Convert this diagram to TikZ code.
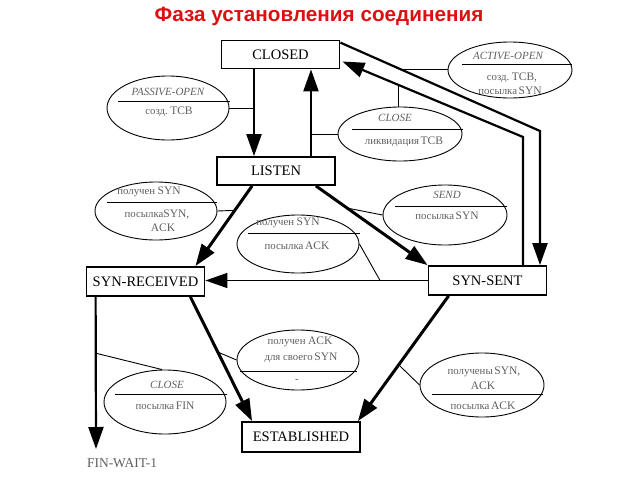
\documentclass[tikz,border=0pt]{standalone}
\usepackage{fontspec}
\setmainfont{Liberation Serif}
\newfontfamily\titlefont{Liberation Sans}
\usetikzlibrary{arrows.meta,calc,shapes.geometric}
\definecolor{titlered}{RGB}{220,16,16}
\definecolor{lblgray}{RGB}{95,95,95}
\newcommand{\cy}[1]{{\fontsize{10.8}{11}\selectfont #1}}
\newcommand{\la}[1]{{\fontsize{11.5}{12}\selectfont #1}}
\begin{document}
\begin{tikzpicture}[x=1pt,y=-1pt,
  state/.style={draw,line width=1.8pt,minimum width=118pt,minimum height=28pt,inner sep=0pt,font=\fontsize{14.5}{16}\selectfont},
  cond/.style={draw,ellipse,line width=0.9pt,inner sep=0pt},
  lbl/.style={text=lblgray,inner sep=0pt},
  ttl/.style={lbl,font=\itshape\fontsize{11}{12}\selectfont},
  sep/.style={line width=0.9pt},
  conn/.style={line width=0.9pt},
  arr/.style={-{Triangle[length=22pt,width=15pt]}},
  thickarr/.style={arr,line width=3pt},
  medarr/.style={arr,line width=2.2pt},
  thinarr/.style={arr,line width=1.5pt}]
\useasboundingbox (0,0) rectangle (640,480);
\node[font=\titlefont\bfseries\fontsize{20.7}{24}\selectfont,text=titlered] (title) at (319,16) {Фаза установления соединения};
% states
\node[state] (closed) at (280.5,54.5) {CLOSED};
\node[state] (listen) at (276,171) {LISTEN};
\node[state,minimum height=29pt] (synrcv) at (145.5,281.5) {SYN-RECEIVED};
\node[state,minimum height=29pt] (synsent) at (487.5,280.5) {SYN-SENT};
\node[state,minimum height=30pt] (est) at (301,437) {ESTABLISHED};
\node[text=lblgray,font=\fontsize{13.5}{15}\selectfont,inner sep=0pt] (finwait) at (122,463) {FIN-WAIT-1};
\coordinate (fwtip) at (96,449);
% transitions
\draw[medarr] ($(closed.south)+(-26.5,0)$) -- coordinate[pos=0.4] (dnC) ($(listen.north)+(-22,0)$);
\draw[medarr] ($(listen.north)+(35,0)$) -- coordinate[pos=0.4] (upC) ($(closed.south)+(30.5,0)$);
\coordinate (oc) at (540,131);
\draw[medarr] ($(closed.north east)+(0,3)$) -- coordinate[pos=0.303] (aoC) (oc) -- (oc |- synsent.north);
\coordinate (ic) at (523,137);
\draw[medarr] (ic |- synsent.north) -- (ic) -- coordinate[pos=0.692] (clC) ($(closed.east)+(2,7)$);
\draw[thickarr] ($(listen.south west)+(36,0)$) -- coordinate[pos=0.305] (srC) ($(synrcv.north east)+(-10,0)$);
\draw[thickarr] ($(listen.south east)+(-20,0)$) -- coordinate[pos=0.28] (sendC) (synsent.north west);
\draw[thinarr] (synsent.west) -- coordinate[pos=0.214] (simC) (synsent.west -| synrcv.east);
\draw[thickarr] ($(synrcv.south east)+(-15,0)$) -- coordinate[pos=0.444] (ackC) ($(est.north west)+(11,0)$);
\draw[thickarr] ($(synsent.south west)+(21,0)$) -- coordinate[pos=0.55] (saC) ($(est.north east)+(-3,0)$);
\draw[medarr] ($(synrcv.south west)+(10,0)$) -- coordinate[pos=0.37] (finC) (fwtip);
% PASSIVE-OPEN
\node[cond,minimum width=122pt,minimum height=64pt] (po) at (168,108) {};
\draw[sep] (118,101) -- (230,101);
\node[ttl] at (168,92) {PASSIVE-OPEN};
\node[lbl] at (169,112) {\cy{созд.}\ \la{TCB}};
\draw[conn] (po.east) -- (po.east -| dnC);
% ACTIVE-OPEN
\node[cond,minimum width=124pt,minimum height=56pt] (ao) at (510,70) {};
\draw[sep] (462,64) -- (572,64);
\node[ttl] at (508,56) {ACTIVE-OPEN};
\node[lbl] at (512,78) {\cy{созд.}\ \la{TCB,}};
\node[lbl] at (510,91) {\cy{посылка}\,\la{SYN}};
\draw[conn] (aoC) -- (ao.west |- aoC);
% CLOSE (top)
\node[cond,minimum width=124pt,minimum height=54pt] (cle) at (400,134) {};
\draw[sep] (352,129) -- (463,129);
\node[ttl] at (395,118) {CLOSE};
\node[lbl] at (404,142) {\cy{ликвидация}\,\la{TCB}};
\draw[conn] (cle.west) -- (cle.west -| upC);
\draw[conn] (clC) -- (clC |- cle.north);
% SYN received (listen)
\node[cond,minimum width=122pt,minimum height=58pt] (sr) at (156,211) {};
\draw[sep] (107,202) -- (217,202);
\node[lbl] at (149,192) {\cy{получен}\ \la{SYN}};
\node[lbl] at (157,215) {\cy{посылка}\la{SYN,}};
\node[lbl] at (163,228) {\la{ACK}};
\draw[conn] (sr.east) -- (srC);
% simultaneous open
\node[cond,minimum width=122pt,minimum height=58pt] (sim) at (298,244) {};
\draw[sep] (248,233) -- (360,233);
\node[lbl] at (288,223) {\cy{получен}\ \la{SYN}};
\node[lbl] at (297,246) {\cy{посылка}\,\la{ACK}};
\draw[conn] (sim.east) -- (simC);
% SEND
\node[cond,minimum width=124pt,minimum height=60pt] (send) at (445,215) {};
\draw[sep] (395,206) -- (507,206);
\node[ttl] at (447,195) {SEND};
\node[lbl] at (447,216) {\cy{посылка}\,\la{SYN}};
\draw[conn] (send.west) -- (sendC);
% ACK for own SYN
\node[cond,minimum width=122pt,minimum height=60pt] (ack) at (298,360) {};
\draw[sep] (240,371) -- (357,371);
\node[lbl] at (300,342) {\cy{получен}\ \la{ACK}};
\node[lbl] at (301,358) {\cy{для своего}\,\la{SYN}};
\node[lbl] at (297,381) {\cy{-}};
\draw[conn] (ack.west) -- (ackC);
% CLOSE / FIN
\node[cond,minimum width=122pt,minimum height=64pt] (fin) at (165,402) {};
\draw[sep] (115,394) -- (227,394);
\node[ttl] at (167,385) {CLOSE};
\node[lbl] at (165,406) {\cy{посылка}\,\la{FIN}};
\draw[conn] ($(fin.north)+(-3,0)$) -- (finC);
% SYN,ACK received
\node[cond,minimum width=124pt,minimum height=64pt] (sa) at (482,385) {};
\draw[sep] (432,394) -- (543,394);
\node[lbl] at (484,372) {\cy{получены}\,\la{SYN,}};
\node[lbl] at (483,386) {\la{ACK}};
\node[lbl] at (483,406) {\cy{посылка}\,\la{ACK}};
\draw[conn] (sa.west) -- (saC);
\end{tikzpicture}
\end{document}
